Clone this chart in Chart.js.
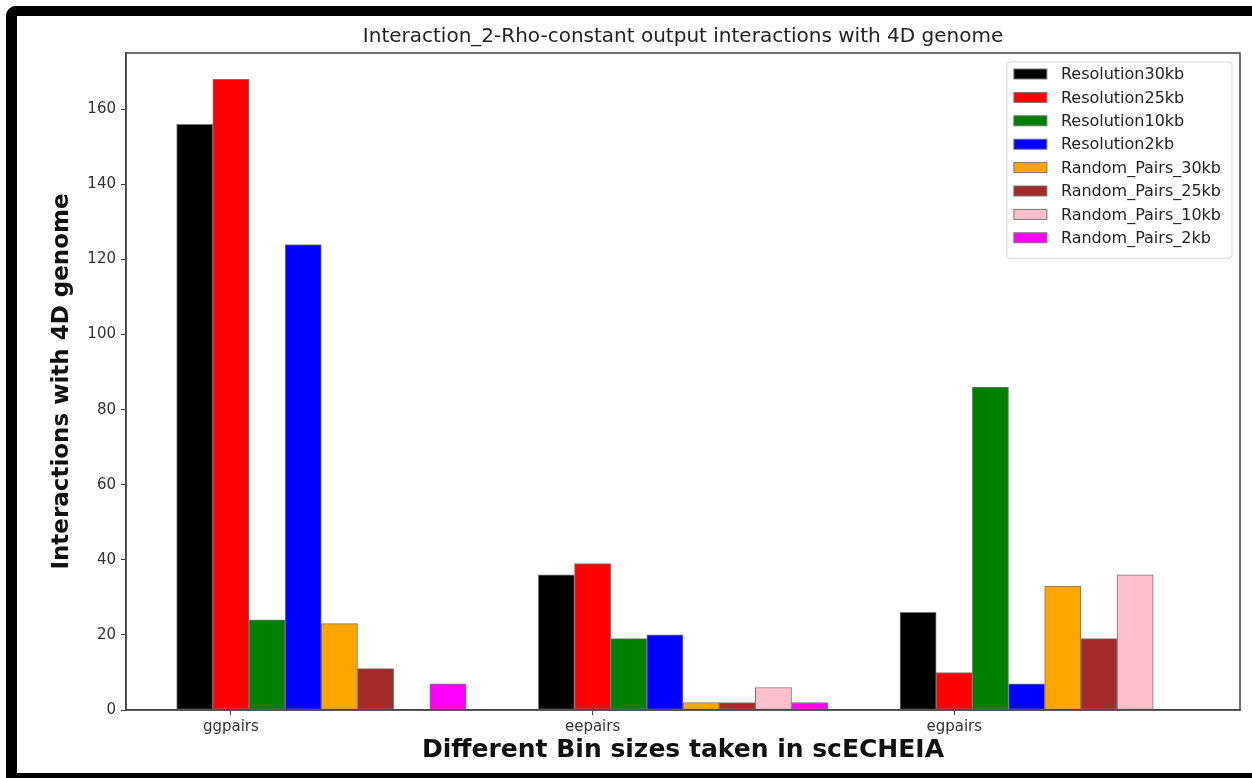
<!DOCTYPE html>
<html>
<head>
<meta charset="utf-8">
<script src="https://cdn.jsdelivr.net/npm/chart.js@4.4.1/dist/chart.umd.min.js"></script>
<style>
  html, body { margin: 0; padding: 0; background: #fff; }
  #wrap { position: relative; width: 1252px; height: 778px; overflow: hidden; }
  #frame {
    position: absolute; left: 6px; top: 6px; width: 1300px; height: 772px;
    border-left: 11px solid #000; border-top: 10px solid #000; border-bottom: 5px solid #000;
    border-top-left-radius: 10px; box-sizing: border-box; pointer-events: none;
  }
</style>
</head>
<body>
<div id="wrap">
  <canvas id="chart" width="1252" height="778"></canvas>
  <div id="frame"></div>
</div>
<script>
// Données du graphique
const categories = ['ggpairs', 'eepairs', 'egpairs'];
const seriesLabels = ['Resolution30kb', 'Resolution25kb', 'Resolution10kb', 'Resolution2kb',
                      'Random_Pairs_30kb', 'Random_Pairs_25kb', 'Random_Pairs_10kb', 'Random_Pairs_2kb'];
const res30kb = [156, 36, 26];
const res25kb = [168, 39, 10];
const res10kb = [24, 19, 86];
const res2kb = [124, 20, 7];
const random30kb = [23, 2, 33];
const random25kb = [11, 2, 19];
const random10kb = [0, 6, 36];
const random2kb = [7, 2, 0];
const yTicks = [0, 20, 40, 60, 80, 100, 120, 140, 160];

const seriesValues = [res30kb, res25kb, res10kb, res2kb, random30kb, random25kb, random10kb, random2kb];
const colors = ['black', 'red', 'green', 'blue', 'orange', 'brown', 'pink', 'magenta'];
const BAR_W = 0.1;

// Chaque série décalée d'une largeur de barre (comme en matplotlib)
const datasets = seriesValues.map((vals, s) => ({
    label: seriesLabels[s],
    data: vals.map((v, c) => ({ x: c + s * BAR_W, y: v })),
    backgroundColor: colors[s],
    borderColor: '#777',
    borderWidth: 1,
    borderSkipped: false,
    grouped: false,
    barPercentage: 1,
    categoryPercentage: 1
}));

// Cadre complet autour de la zone de tracé
const framePlugin = {
    id: 'frame',
    afterDatasetsDraw(chart) {
        const a = chart.chartArea, ctx = chart.ctx;
        ctx.save();
        ctx.strokeStyle = '#444';
        ctx.lineWidth = 1.5;
        ctx.strokeRect(a.left, a.top, a.right - a.left, a.bottom - a.top);
        ctx.restore();
    }
};

// Légende dans le coin haut-droit
const legendPlugin = {
    id: 'innerLegend',
    afterDraw(chart) {
        const a = chart.chartArea, ctx = chart.ctx;
        ctx.save();
        ctx.font = '16px "DejaVu Sans"';
        const textW = Math.max(...chart.data.datasets.map(d => ctx.measureText(d.label).width));
        const rowH = 23.4;
        const w = 7 + 33 + 14 + textW + 11;
        const h = chart.data.datasets.length * rowH + 9;
        const x = a.right - 8 - w, y = a.top + 9;
        ctx.fillStyle = 'rgba(255,255,255,0.85)';
        ctx.strokeStyle = '#d6d6d6';
        ctx.lineWidth = 1;
        ctx.beginPath();
        ctx.roundRect(x, y, w, h, 3);
        ctx.fill();
        ctx.stroke();
        ctx.textBaseline = 'middle';
        chart.data.datasets.forEach((d, i) => {
            const cy = y + 12 + i * rowH;
            ctx.fillStyle = d.backgroundColor;
            ctx.fillRect(x + 7, cy - 5, 33, 10);
            ctx.strokeStyle = '#777';
            ctx.strokeRect(x + 7, cy - 5, 33, 10);
            ctx.fillStyle = '#222';
            ctx.fillText(d.label, x + 54, cy + 1);
        });
        ctx.restore();
    }
};

const ctx = document.getElementById('chart').getContext('2d');
const chart = new Chart(ctx, {
    type: 'bar',
    data: { datasets: datasets },
    options: {
        responsive: false,
        animation: false,
        layout: { padding: { left: 42, right: 12, top: 0, bottom: 0 } },
        plugins: {
            legend: { display: false },
            tooltip: { enabled: false },
            title: {
                display: true,
                fullSize: false,
                text: 'Interaction_2-Rho-constant output interactions with 4D genome',
                color: '#222',
                font: { family: 'DejaVu Sans', size: 20, weight: 'normal', lineHeight: 1.2 },
                padding: { top: 25, bottom: 4 }
            }
        },
        scales: {
            x: {
                type: 'linear',
                offset: false,
                min: -0.19,
                max: 2.89,
                afterBuildTicks(axis) {
                    axis.ticks = categories.map((c, i) => ({ value: i + BAR_W }));
                },
                afterFit(axis) { axis.height = 68; },
                ticks: {
                    autoSkip: false,
                    maxRotation: 0,
                    color: '#333',
                    padding: 3,
                    font: { family: 'DejaVu Sans', size: 15 },
                    callback: (v, i) => categories[i]
                },
                grid: { offset: false, drawOnChartArea: false, drawTicks: true, tickLength: 5, tickColor: '#444' },
                border: { display: true, color: '#444', width: 1.5 },
                title: {
                    display: true,
                    text: 'Different Bin sizes taken in scECHEIA',
                    color: '#111',
                    font: { family: 'DejaVu Sans', size: 25, weight: 'bold', lineHeight: 1.2 },
                    padding: { top: 0, bottom: 13 }
                }
            },
            y: {
                min: 0,
                max: 175,
                afterBuildTicks(axis) {
                    axis.ticks = yTicks.map(v => ({ value: v }));
                },
                afterFit(axis) { axis.width = 84; },
                ticks: {
                    color: '#333',
                    padding: 5,
                    font: { family: 'DejaVu Sans', size: 15 }
                },
                grid: { drawOnChartArea: false, drawTicks: true, tickLength: 5, tickColor: '#444' },
                border: { display: true, color: '#444', width: 1.5 },
                title: {
                    display: true,
                    text: 'Interactions with 4D genome',
                    color: '#111',
                    font: { family: 'DejaVu Sans', size: 23, weight: 'bold', lineHeight: 1.2 },
                    padding: { top: 6, bottom: 0 }
                }
            }
        }
    },
    plugins: [framePlugin, legendPlugin]
});
</script>
</body>
</html>
